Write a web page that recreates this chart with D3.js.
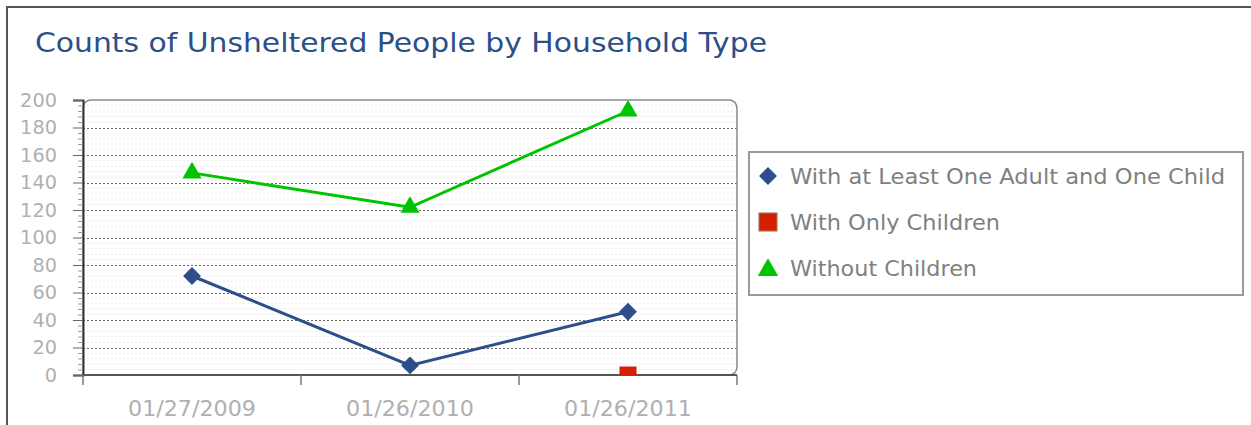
<!DOCTYPE html>
<html>
<head>
<meta charset="utf-8">
<script src="https://cdn.jsdelivr.net/npm/d3@7"></script>
<style>
  html, body { margin: 0; padding: 0; background: #fff; }
  #chart { width: 1251px; height: 425px; }
</style>
</head>
<body>
<div id="chart"></div>
<script>
// Chart data
const dates = ['01/27/2009', '01/26/2010', '01/26/2011'];
const adultChild = [72, 7, 46];
const onlyChildren = [null, null, 0];
const withoutChildren = [147, 122, 192];
const seriesNames = ['With at Least One Adult and One Child', 'With Only Children', 'Without Children'];
const yTicks = [0, 20, 40, 60, 80, 100, 120, 140, 160, 180, 200];

const W = 1251, H = 425;
const font = 'Verdana, "DejaVu Sans", sans-serif';

const svg = d3.select('#chart').append('svg')
  .attr('width', W).attr('height', H);

// stretch text horizontally to a given width (the original is a wide pixel font)
function stretch(sel, w) {
  sel.attr('textLength', w).attr('lengthAdjust', 'spacingAndGlyphs');
}

// outer frame
svg.append('rect').attr('x', 7).attr('y', 7).attr('width', W).attr('height', H)
  .attr('fill', '#fff').attr('stroke', '#555').attr('stroke-width', 2);

svg.append('text')
  .attr('x', 35).attr('y', 52)
  .attr('font-family', font).attr('font-size', 27)
  .attr('fill', '#2b4f87')
  .text('Counts of Unsheltered People by Household Type')
  .call(stretch, 732);

const plot = { left: 83, top: 100, right: 737, bottom: 375 };

const x = d3.scaleBand().domain(dates).range([plot.left, plot.right]);
const y = d3.scaleLinear().domain([0, 200]).range([plot.bottom, plot.top]);

const diamond = { draw(ctx, size) { const r = Math.sqrt(size / 2); ctx.moveTo(0, -r); ctx.lineTo(r, 0); ctx.lineTo(0, r); ctx.lineTo(-r, 0); ctx.closePath(); } };

const series = [
  { name: seriesNames[0], values: adultChild, color: '#2c4f8c', shape: diamond, size: 160, lsize: 160, tw: 435 },
  { name: seriesNames[1], values: onlyChildren, color: '#d42000', shape: d3.symbolSquare, size: 290, lsize: 340, tw: 210 },
  { name: seriesNames[2], values: withoutChildren, color: '#00c400', shape: d3.symbolTriangle, size: 160, lsize: 180, tw: 187 }
];

// plot background + frame path (rounded on three corners)
const r = 9;
const framePath = `M${plot.left},${plot.bottom} L${plot.left},${plot.top + r} Q${plot.left},${plot.top} ${plot.left + r},${plot.top}
  L${plot.right - r},${plot.top} Q${plot.right},${plot.top} ${plot.right},${plot.top + r}
  L${plot.right},${plot.bottom - r} Q${plot.right},${plot.bottom} ${plot.right - r},${plot.bottom} Z`;

svg.append('defs').append('clipPath').attr('id', 'plotclip')
  .append('path').attr('d', framePath);

svg.append('path').attr('d', framePath).attr('fill', '#fff');

// faint minor grid
const minorTicks = d3.range(0, 200, 4).filter(v => v % 20 !== 0);
const grid = svg.append('g').attr('clip-path', 'url(#plotclip)');
grid.selectAll('line.minor')
  .data(minorTicks)
  .join('line')
  .attr('x1', plot.left).attr('x2', plot.right)
  .attr('y1', d => y(d)).attr('y2', d => y(d))
  .attr('stroke', '#ececec').attr('stroke-width', 1)
  .attr('stroke-dasharray', '2,2');

grid.selectAll('line.major')
  .data(yTicks.filter(v => v > 0 && v < 200))
  .join('line')
  .attr('x1', plot.left).attr('x2', plot.right)
  .attr('y1', d => Math.round(y(d)) + 0.5).attr('y2', d => Math.round(y(d)) + 0.5)
  .attr('stroke', '#666').attr('stroke-width', 1)
  .attr('stroke-dasharray', '2,2');

svg.append('path').attr('d', framePath)
  .attr('fill', 'none').attr('stroke', '#8a8a8a').attr('stroke-width', 1.5);

// y axis
const yAxis = svg.append('g').attr('transform', `translate(${plot.left},0)`)
  .call(d3.axisLeft(y).tickValues(yTicks).tickSize(10).tickPadding(16));
yAxis.select('.domain').attr('stroke', '#333').attr('stroke-width', 2);
yAxis.selectAll('.tick line').attr('stroke', '#666');
yAxis.selectAll('.tick text')
  .attr('font-family', font).attr('font-size', 19).attr('fill', '#b0b0b0')
  .each(function(d) { d3.select(this).call(stretch, String(d).length * 12.3); });

svg.append('g').attr('transform', `translate(${plot.left},0)`)
  .call(d3.axisLeft(y).tickValues(minorTicks).tickSize(5).tickFormat(''))
  .call(g => g.select('.domain').remove())
  .selectAll('.tick line').attr('stroke', '#999');

// x axis: ticks on band boundaries
const bounds = dates.map(d => x(d)).concat([plot.right]);
const xAxisG = svg.append('g');
xAxisG.append('line')
  .attr('x1', plot.left).attr('x2', plot.right)
  .attr('y1', plot.bottom).attr('y2', plot.bottom)
  .attr('stroke', '#555').attr('stroke-width', 2);
xAxisG.selectAll('line.tick')
  .data(bounds)
  .join('line')
  .attr('x1', d => d).attr('x2', d => d)
  .attr('y1', plot.bottom).attr('y2', plot.bottom + 10)
  .attr('stroke', '#777').attr('stroke-width', 1.5);
xAxisG.selectAll('text')
  .data(dates)
  .join('text')
  .attr('x', d => x(d) + x.bandwidth() / 2 - 64)
  .attr('y', 416)
  .attr('font-family', font).attr('font-size', 21).attr('fill', '#b0b0b0')
  .text(d => d)
  .call(stretch, 128);

// lines and markers
const cx = d => x(d) + x.bandwidth() / 2;
const lineGen = d3.line()
  .defined(d => d.v != null)
  .x(d => cx(d.date)).y(d => y(d.v));

const plotG = svg.append('g').attr('clip-path', 'url(#plotclip)');
series.forEach(s => {
  const pts = dates.map((date, i) => ({ date, v: s.values[i] }));
  plotG.append('path').datum(pts)
    .attr('d', lineGen)
    .attr('fill', 'none').attr('stroke', s.color).attr('stroke-width', 3);
  plotG.selectAll(null)
    .data(pts.filter(p => p.v != null))
    .join('path')
    .attr('transform', p => `translate(${cx(p.date)},${y(p.v)})`)
    .attr('d', d3.symbol().type(s.shape).size(s.size))
    .attr('fill', s.color);
});

// legend
const legend = svg.append('g').attr('transform', 'translate(749,152)');
legend.append('rect').attr('width', 494).attr('height', 143)
  .attr('fill', '#fff').attr('stroke', '#999').attr('stroke-width', 2);
series.forEach((s, i) => {
  const ly = 24 + i * 46;
  legend.append('path')
    .attr('transform', `translate(19,${ly + (s.shape === d3.symbolTriangle ? 2 : 0)})`)
    .attr('d', d3.symbol().type(s.shape).size(s.lsize))
    .attr('fill', s.color)
    .attr('stroke', s.shape === d3.symbolSquare ? '#aaa' : 'none');
  legend.append('text')
    .attr('x', 41).attr('y', ly + 8)
    .attr('font-family', font).attr('font-size', 21).attr('fill', '#808080')
    .text(s.name)
    .call(stretch, s.tw);
});
</script>
</body>
</html>
